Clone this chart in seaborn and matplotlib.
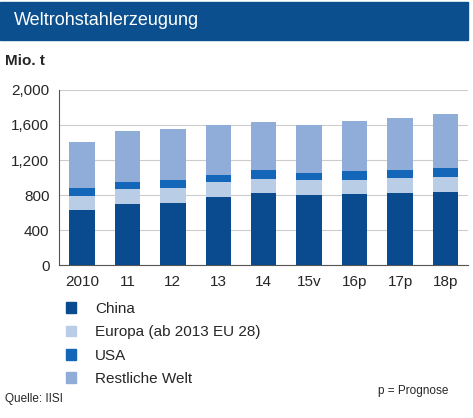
import matplotlib
matplotlib.use("Agg")
import matplotlib.pyplot as plt
import seaborn as sns
import numpy as np
import pandas as pd

years = ["2010", "11", "12", "13", "14", "15v", "16p", "17p", "18p"]
china = [630, 702, 716, 780, 820, 805, 810, 830, 840]
europa = [160, 168, 164, 165, 170, 165, 165, 170, 170]
usa = [90, 85, 90, 85, 100, 80, 100, 85, 105]
rest = [530, 575, 580, 575, 540, 550, 565, 590, 610]

names = ["China", "Europa (ab 2013 EU 28)", "USA", "Restliche Welt"]
colors = ["#0a4a8e", "#b9cde6", "#1466b8", "#8fadd8"]

sns.set_style("white")
plt.rcParams['font.family'] = ['Liberation Sans', 'DejaVu Sans']

fig = plt.figure(figsize=(4.73, 4.18), dpi=100)
ax = fig.add_axes([0.125, 0.365, 0.865, 0.42])

series = [china, europa, usa, rest]
bottom = np.zeros(len(years))
for vals, nm, c in zip(series, names, colors):
    df = pd.DataFrame({"year": years, "v": np.array(vals) + bottom})
    sns.barplot(data=df, x="year", y="v", color=c, ax=ax, width=0.56,
                saturation=1, label=nm)
    bottom = bottom + np.array(vals)

for i, cont in enumerate(ax.containers):
    for p in cont:
        p.set_zorder(10 - i)
        p.set_edgecolor("none")

ax.set_ylim(0, 2000)
ax.set_yticks([0, 400, 800, 1200, 1600, 2000])
ax.set_yticklabels(["0", "400", "800", "1,200", "1,600", "2,000"], fontsize=11)
ax.tick_params(axis='x', labelsize=11)
ax.set_xlabel("")
ax.set_ylabel("")
ax.grid(axis='y', color="#cccccc", linewidth=0.8)
ax.set_axisbelow(True)
for s in ["top", "right"]:
    ax.spines[s].set_visible(False)
ax.spines["left"].set_color("#555555")
ax.spines["bottom"].set_color("#555555")
if ax.get_legend():
    ax.get_legend().remove()

fig.patches.append(plt.Rectangle((0.0, 0.905), 0.99, 0.09, transform=fig.transFigure,
                                 color="#0b4f8e"))
fig.text(0.03, 0.95, "Weltrohstahlerzeugung", color="white", fontsize=13, va="center")
fig.text(0.01, 0.855, "Mio. t", fontsize=11, fontweight="bold", va="center")

handles = [plt.Rectangle((0, 0), 1, 1, color=c) for c in colors]
fig.legend(handles, names, loc="upper left", bbox_to_anchor=(0.11, 0.31),
           frameon=False, fontsize=11, handlelength=0.7, handleheight=0.7,
           labelspacing=0.6, handletextpad=1.2)

fig.text(0.01, 0.045, "Quelle: IISI", fontsize=8.5, va="center")
fig.text(0.8, 0.065, "p = Prognose", fontsize=8.5, va="center")

fig.savefig("out.png", dpi=100)
